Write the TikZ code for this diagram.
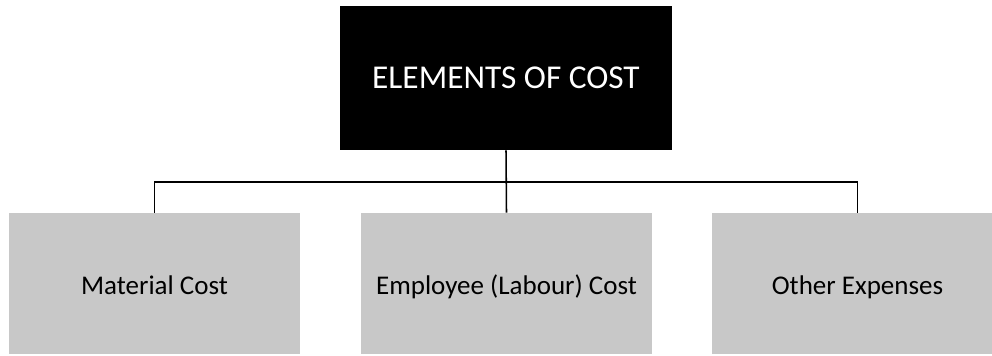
\documentclass[tikz,border=0pt]{standalone}
\usepackage{fontspec}
\setmainfont{Carlito}
\usetikzlibrary{calc}
\definecolor{boxgray}{RGB}{200,200,200}
\tikzset{
  headbox/.style={
    fill=black, text=white, inner sep=0pt,
    minimum width=8.3cm, minimum height=3.6cm,
    font=\fontsize{23.7}{28}\selectfont
  },
  costbox/.style={
    fill=boxgray, text=black, inner sep=0pt,
    minimum width=7.275cm, minimum height=3.525cm,
    text height=20pt, text depth=5pt,
    font=\fontsize{19.2}{23}\selectfont
  },
  wire/.style={black, line width=1.1pt}
}

\begin{document}
\begin{tikzpicture}[x=0.025cm, y=-0.025cm]
\useasboundingbox (0,0) rectangle (992,355);
\node[headbox] (head) at (506, 78) {ELEMENTS OF COST};
\node[costbox] (matcost) at (154.5, 283.5) {Material Cost};
\node[costbox] (empcost) at (506.5, 283.5) {Employee (Labour) Cost};
\node[costbox] (othexp) at (857.5, 283.5) {Other Expenses};
\coordinate (bus) at (506, 182);
\draw[wire] (head.south) -- (empcost.north);
\draw[wire] (matcost.north) |- (bus) -| (othexp.north);
\end{tikzpicture}
\end{document}
